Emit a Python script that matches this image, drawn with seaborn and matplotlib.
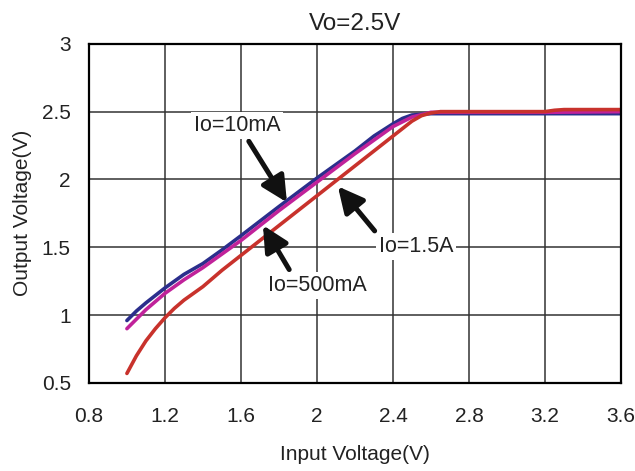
import matplotlib
matplotlib.use("Agg")
import matplotlib.pyplot as plt
import seaborn as sns
import pandas as pd
from matplotlib.ticker import FuncFormatter

# Data
x_blue = [1.0, 1.05, 1.1, 1.2, 1.3, 1.4, 1.5, 1.6, 1.8, 2.0, 2.2, 2.3, 2.4, 2.45, 2.5, 2.6, 3.2, 3.6]
y_blue = [0.96, 1.03, 1.09, 1.20, 1.30, 1.38, 1.48, 1.585, 1.80, 2.01, 2.21, 2.32, 2.41, 2.45, 2.475, 2.485, 2.485, 2.485]

x_mag = [1.0, 1.1, 1.2, 1.3, 1.4, 1.5, 1.6, 1.8, 2.0, 2.2, 2.3, 2.4, 2.5, 2.6, 3.2, 3.6]
y_mag = [0.90, 1.04, 1.16, 1.26, 1.35, 1.45, 1.55, 1.77, 1.98, 2.19, 2.29, 2.39, 2.46, 2.495, 2.495, 2.50]

x_red = [1.0, 1.05, 1.1, 1.15, 1.2, 1.25, 1.3, 1.4, 1.5, 1.6, 1.7, 1.8, 1.9, 2.0, 2.1, 2.2, 2.3, 2.4, 2.5, 2.55, 2.6, 2.65, 3.2, 3.25, 3.3, 3.6]
y_red = [0.57, 0.70, 0.81, 0.90, 0.98, 1.05, 1.11, 1.21, 1.33, 1.44, 1.55, 1.66, 1.77, 1.88, 1.99, 2.10, 2.21, 2.32, 2.43, 2.47, 2.49, 2.50, 2.50, 2.51, 2.515, 2.515]

series_names = ["Io=10mA", "Io=500mA", "Io=1.5A"]
colors = ["#2B2E8C", "#C0229A", "#C8322C"]

x_ticks = [0.8, 1.2, 1.6, 2.0, 2.4, 2.8, 3.2, 3.6]
y_ticks = [0.5, 1.0, 1.5, 2.0, 2.5, 3.0]

sns.set_style("white")
plt.rcParams['font.family'] = ['Liberation Sans', 'DejaVu Sans']

fig = plt.figure(figsize=(6.35, 4.71), dpi=100)
ax = fig.add_axes([0.140, 0.187, 0.838, 0.720])

for xs, ys, c in zip([x_blue, x_mag, x_red], [y_blue, y_mag, y_red], colors):
    df = pd.DataFrame({"x": xs, "y": ys})
    sns.lineplot(data=df, x="x", y="y", ax=ax, color=c, linewidth=2.6, sort=False)

ax.set_xlim(0.8, 3.6)
ax.set_ylim(0.5, 3.0)
ax.set_xticks(x_ticks)
ax.set_yticks(y_ticks)
fmt = FuncFormatter(lambda v, p: f"{v:g}")
ax.xaxis.set_major_formatter(fmt)
ax.yaxis.set_major_formatter(fmt)
ax.tick_params(axis='both', length=0, labelsize=15, colors='#222222')
ax.tick_params(axis='y', pad=13)
ax.tick_params(axis='x', pad=17)
ax.grid(True, color='#333333', linewidth=1.1)
ax.set_axisbelow(True)
for s in ax.spines.values():
    s.set_color('black')
    s.set_linewidth(1.6)

ax.set_title("Vo=2.5V", fontsize=17.5, pad=10, color='#222222')
ax.set_xlabel("Input Voltage(V)", fontsize=15, labelpad=14, color='#222222')
ax.set_ylabel("Output Voltage(V)", fontsize=15, labelpad=7, color='#222222')

bbox = dict(facecolor='white', edgecolor='none', pad=2)
arrowprops = dict(arrowstyle='-|>,head_length=1.0,head_width=0.5', color='#111111', lw=3.6,
                  shrinkA=2, shrinkB=0)
ax.annotate(series_names[0], xy=(1.842, 1.831), xytext=(1.579, 2.397), fontsize=15.5,
            ha='center', va='center', bbox=bbox, color='#222222', zorder=5,
            arrowprops=dict(arrowprops, relpos=(0.6, 0.0)))
ax.annotate(series_names[1], xy=(1.716, 1.662), xytext=(2.0, 1.22), fontsize=15.5,
            ha='center', va='center', bbox=bbox, color='#222222', zorder=5,
            arrowprops=dict(arrowprops, relpos=(0.25, 1.0)))
ax.annotate(series_names[2], xy=(2.11, 1.949), xytext=(2.521, 1.507), fontsize=15.5,
            ha='center', va='center', bbox=bbox, color='#222222', zorder=5,
            arrowprops=dict(arrowprops, relpos=(0.0, 1.0)))

fig.savefig("out.png", dpi=100)
